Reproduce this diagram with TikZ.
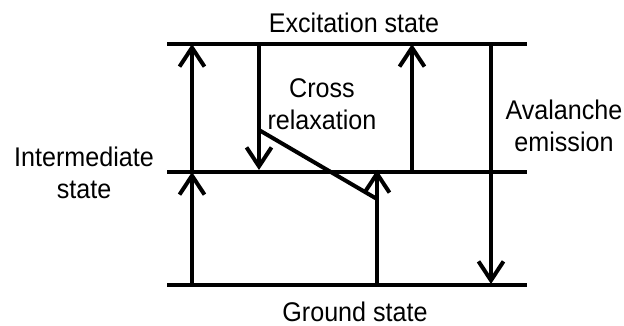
\documentclass[tikz,border=0pt]{standalone}
\usepackage{fontspec}
\setmainfont[FakeStretch=0.93]{Liberation Sans}
\usetikzlibrary{arrows.meta}

\begin{document}
\begin{tikzpicture}[x=1pt,y=-1pt,line width=4pt,
    trans/.style={-{Straight Barb[length=19pt,width=25pt]}},
    lbl/.style={font=\fontsize{27}{32}\selectfont,align=center,inner sep=0pt}]
  \useasboundingbox (0,0) rectangle (624,326);
  % energy levels
  \foreach \y in {44,172,285}{
    \draw[line width=4.5pt] (167,\y) -- (527,\y);
  }
  % pumping
  \draw[trans] (192,285) -- (192,172);
  \draw[trans] (192,172) -- (192,44);
  \draw[trans] (412,172) -- (412,44);
  % cross relaxation
  \draw[trans] (259,44) -- (259,170);
  \draw (259,130) -- (377,199);
  \draw[trans] (377,285) -- (377,170);
  % emission
  \draw[trans] (491,44) -- (491,284);
  % labels
  \node[lbl] (exc) at (354,23) {Excitation state};
  \node[lbl] (gnd) at (355,312) {Ground state};
  \node[lbl] (mid) at (84,173) {Intermediate\\state};
  \node[lbl] (cr) at (322,104) {Cross\\relaxation};
  \node[lbl] (av) at (564,126) {Avalanche\\emission};
\end{tikzpicture}
\end{document}
